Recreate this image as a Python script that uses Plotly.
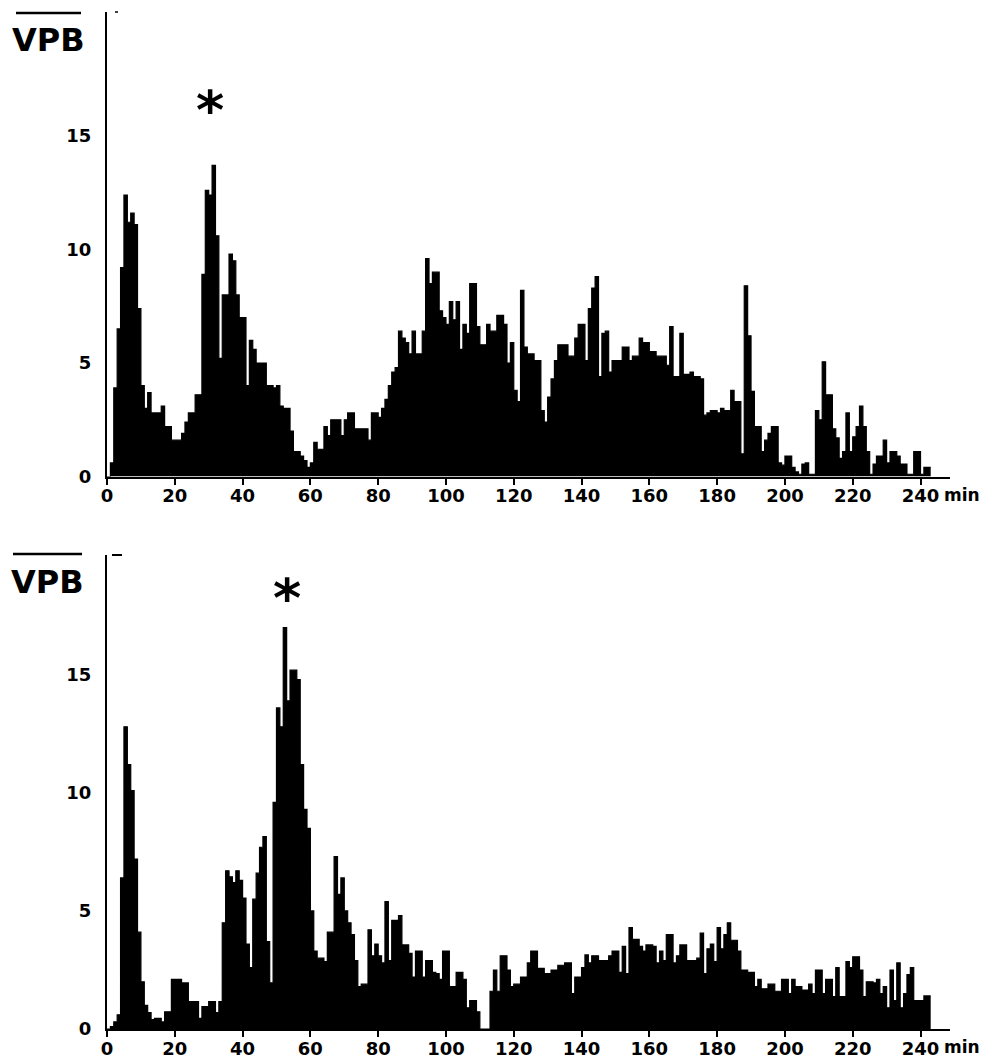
import plotly.graph_objects as go

# ---------------- data (VPB per minute bin) ----------------
minutes = list(range(243))

top_vpb = [
    0, 0.6, 3.9, 6.5, 9.2, 12.4, 11.2, 11.6, 11.1, 7.4,
    4.0, 3.0, 3.7, 2.8, 2.8, 2.8, 3.1, 2.2, 2.2, 1.6,
    1.6, 1.6, 1.9, 2.4, 2.8, 2.8, 3.6, 3.6, 8.9, 12.6,
    12.4, 13.7, 10.6, 5.2, 8.0, 8.0, 9.8, 9.5, 8.0, 7.0,
    7.0, 4.0, 6.0, 5.6, 5.0, 5.0, 5.0, 4.0, 4.0, 3.9,
    4.0, 3.1, 3.0, 3.0, 2.0, 1.1, 1.1, 0.9, 0.7, 0.4,
    0.6, 1.5, 1.2, 1.2, 2.2, 1.8, 2.5, 2.5, 2.5, 1.8,
    2.5, 2.8, 2.8, 2.1, 2.1, 2.1, 2.1, 1.6, 2.8, 2.8,
    2.6, 3.0, 3.4, 4.0, 4.6, 4.8, 6.4, 6.1, 5.9, 5.4,
    6.4, 5.4, 5.4, 6.4, 9.6, 8.5, 9.0, 9.0, 7.3, 7.0,
    6.7, 7.7, 6.9, 7.7, 5.6, 6.7, 6.3, 8.5, 8.5, 6.6,
    5.8, 5.8, 6.7, 6.4, 6.4, 7.1, 7.1, 6.7, 5.0, 5.9,
    3.8, 3.3, 8.2, 5.7, 5.4, 5.4, 5.1, 5.1, 2.9, 2.4,
    3.5, 4.3, 5.1, 5.8, 5.8, 5.8, 5.3, 5.3, 6.1, 6.7,
    6.7, 5.1, 7.4, 8.3, 8.8, 4.4, 6.3, 6.4, 4.6, 5.1,
    5.1, 5.1, 5.7, 5.7, 5.1, 5.3, 5.3, 6.1, 5.9, 5.9,
    5.5, 5.5, 5.3, 5.3, 5.3, 4.9, 6.6, 4.4, 4.4, 6.3,
    4.5, 4.5, 4.6, 4.4, 4.4, 4.3, 2.7, 2.8, 2.9, 2.9,
    2.8, 3.0, 2.9, 2.9, 3.8, 3.3, 3.3, 1.0, 8.4, 6.2,
    3.75, 2.2, 2.2, 1.1, 1.6, 1.9, 2.2, 2.2, 0.6, 0.5,
    0.9, 0.9, 0.4, 0.2, 0.1, 0.55, 0.6, 0.1, 0.1, 2.9,
    2.5, 5.05, 3.6, 3.6, 2.1, 1.7, 0.8, 1.1, 2.8, 1.1,
    1.75, 2.2, 3.1, 2.2, 1.1, 0.1, 0.55, 0.9, 0.9, 1.6,
    0.6, 1.1, 1.1, 0.9, 0.55, 0.55, 0.1, 0.1, 1.1, 1.1,
    0.1, 0.4, 0.4,
]

bottom_vpb = [
    0, 0.1, 0.3, 0.6, 6.4, 12.8, 11.2, 10.1, 7.2, 4.1,
    2.0, 1.0, 0.7, 0.4, 0.45, 0.45, 0.3, 0.73, 0.73, 2.1,
    2.1, 2.1, 1.95, 1.95, 1.16, 1.16, 1.16, 0.45, 0.95, 0.95,
    1.16, 1.16, 0.7, 1.16, 4.5, 6.7, 6.45, 6.2, 6.7, 6.3,
    5.55, 3.6, 2.6, 5.5, 6.6, 7.7, 8.15, 3.7, 1.95, 9.6,
    13.6, 12.8, 17.0, 13.9, 15.2, 15.2, 14.8, 11.2, 9.3, 8.5,
    5.0, 3.3, 3.0, 3.0, 2.85, 4.1, 4.1, 7.3, 5.7, 6.4,
    5.0, 4.5, 4.0, 2.9, 1.8, 1.9, 1.9, 4.2, 3.1, 3.6,
    3.1, 2.8, 5.4, 2.9, 4.6, 4.6, 4.8, 3.56, 3.56, 3.2,
    2.2, 3.3, 3.3, 2.2, 2.9, 2.9, 2.4, 2.35, 2.1, 3.3,
    3.3, 1.8, 1.8, 2.4, 2.4, 2.1, 0.9, 1.2, 1.2, 0.73,
    0, 0, 0, 1.6, 2.5, 1.6, 3.1, 3.1, 2.5, 1.8,
    1.9, 1.9, 2.2, 2.2, 2.8, 3.3, 3.3, 2.57, 2.57, 2.35,
    2.35, 2.5, 2.5, 2.7, 2.7, 2.8, 2.8, 1.5, 2.2, 2.2,
    2.6, 3.14, 2.8, 3.1, 3.1, 2.9, 2.9, 2.9, 3.1, 3.3,
    3.3, 2.4, 3.5, 2.35, 4.3, 3.8, 3.8, 3.5, 3.3, 3.56,
    3.56, 3.5, 2.8, 3.3, 2.9, 4.0, 4.0, 2.8, 3.1, 3.56,
    3.56, 2.9, 2.9, 2.9, 3.0, 4.06, 2.35, 3.4, 3.6, 2.85,
    4.3, 3.4, 4.0, 4.5, 3.76, 3.76, 3.3, 2.5, 2.5, 2.4,
    2.4, 1.8, 2.1, 1.7, 1.7, 1.9, 1.9, 1.6, 1.6, 2.1,
    2.1, 1.5, 2.1, 1.8, 1.8, 1.65, 1.65, 1.9, 1.5, 2.5,
    2.5, 1.5, 2.1, 2.1, 1.37, 2.6, 1.37, 1.37, 2.85, 2.6,
    3.06, 3.06, 2.5, 1.37, 2.0, 2.0, 1.95, 2.1, 1.5, 1.8,
    0.9, 2.5, 1.2, 2.8, 0.9, 1.5, 2.3, 2.6, 1.2, 1.2,
    1.2, 1.4, 1.4,
]

x_tick_vals = list(range(0, 241, 20))
x_tick_text = [str(v) for v in x_tick_vals]
y_tick_vals = [0, 5, 10, 15]
y_tick_text = [str(v) for v in y_tick_vals]

# ---------------- figure ----------------
# the page body has an 8 px margin, so the figure is 8 px smaller and all
# screen positions below are converted to figure fractions with that offset
OFF = 8
W, H = 997 - OFF, 1058 - OFF

def px_x(p):
    return (p - OFF) / W

def px_y(p):
    return (H - (p - OFF)) / H

# step outline: each minute bin drawn from its left edge to the next
x_edges = minutes + [minutes[-1] + 1]

def steps(vals):
    return vals + [vals[-1]]

fig = go.Figure()
for vals, xa, ya in ((top_vpb, "x", "y"), (bottom_vpb, "x2", "y2")):
    fig.add_trace(go.Scatter(
        x=x_edges, y=steps(vals), mode="lines", line_shape="hv",
        line=dict(color="black", width=1.2), fill="tozeroy", fillcolor="black",
        xaxis=xa, yaxis=ya, showlegend=False, hoverinfo="x+y"))

tick_font = dict(family="DejaVu Sans", size=18, color="black", weight="bold")

xaxis_common = dict(
    domain=[px_x(107), px_x(950)], range=[0, 248.7],
    tickmode="array", tickvals=x_tick_vals, ticktext=x_tick_text,
    ticks="outside", ticklen=6, tickwidth=2, tickcolor="black",
    showline=True, linewidth=2, linecolor="black",
    showgrid=False, zeroline=False, tickfont=tick_font, fixedrange=True,
    automargin=False, ticklabelstandoff=-4,
)
yaxis_common = dict(
    tickmode="array", tickvals=y_tick_vals, ticktext=y_tick_text,
    ticks="", showline=True, linewidth=2, linecolor="black",
    showgrid=False, zeroline=False, tickfont=tick_font,
    ticklabelstandoff=10, fixedrange=True, automargin=False,
)

fig.update_layout(
    width=W, height=H,
    margin=dict(l=0, r=0, t=0, b=0, pad=0),
    paper_bgcolor="white", plot_bgcolor="white",
    showlegend=False,
    xaxis=dict(anchor="y", **xaxis_common),
    yaxis=dict(anchor="x", domain=[px_y(476.5), px_y(12)], range=[0, 20.46], **yaxis_common),
    xaxis2=dict(anchor="y2", **xaxis_common),
    yaxis2=dict(anchor="x2", domain=[px_y(1029), px_y(555)], range=[0, 20.08], **yaxis_common),
)

label_font = dict(family="DejaVu Sans", size=32, color="black", weight="bold")
ann = []
# VPB labels (overline drawn as shape)
ann.append(dict(text="VPB", xref="paper", yref="paper", x=px_x(48), y=px_y(40),
                xanchor="center", yanchor="middle", showarrow=False, font=label_font))
ann.append(dict(text="VPB", xref="paper", yref="paper", x=px_x(47), y=px_y(582),
                xanchor="center", yanchor="middle", showarrow=False, font=label_font))
# 'min' unit labels
min_font = dict(family="DejaVu Sans", size=17, color="black", weight="bold")
ann.append(dict(text="min", xref="paper", yref="paper", x=px_x(942), y=px_y(495),
                xanchor="left", yanchor="middle", showarrow=False, font=min_font))
ann.append(dict(text="min", xref="paper", yref="paper", x=px_x(942), y=px_y(1047),
                xanchor="left", yanchor="middle", showarrow=False, font=min_font))
# asterisks over the marked peaks
star_font = dict(family="DejaVu Sans", size=54, color="black", weight="bold")
ann.append(dict(text="*", xref="x", yref="y", x=30.3, y=16.5, xanchor="center",
                yanchor="middle", showarrow=False, font=star_font, yshift=-9))
ann.append(dict(text="*", xref="x2", yref="y2", x=53.0, y=18.6, xanchor="center",
                yanchor="middle", showarrow=False, font=star_font, yshift=-9))

shapes = [
    dict(type="line", xref="paper", yref="paper", x0=px_x(16), x1=px_x(81),
         y0=px_y(13), y1=px_y(13), line=dict(color="black", width=2.5)),
    dict(type="line", xref="paper", yref="paper", x0=px_x(13), x1=px_x(82),
         y0=px_y(554), y1=px_y(554), line=dict(color="black", width=2.5)),
    dict(type="line", xref="paper", yref="paper", x0=px_x(115), x1=px_x(118),
         y0=px_y(12), y1=px_y(12), line=dict(color="black", width=1.5)),
    dict(type="line", xref="paper", yref="paper", x0=px_x(112), x1=px_x(122),
         y0=px_y(555), y1=px_y(555), line=dict(color="black", width=2)),
]

fig.update_layout(annotations=ann, shapes=shapes)
fig.write_html("out.html")
